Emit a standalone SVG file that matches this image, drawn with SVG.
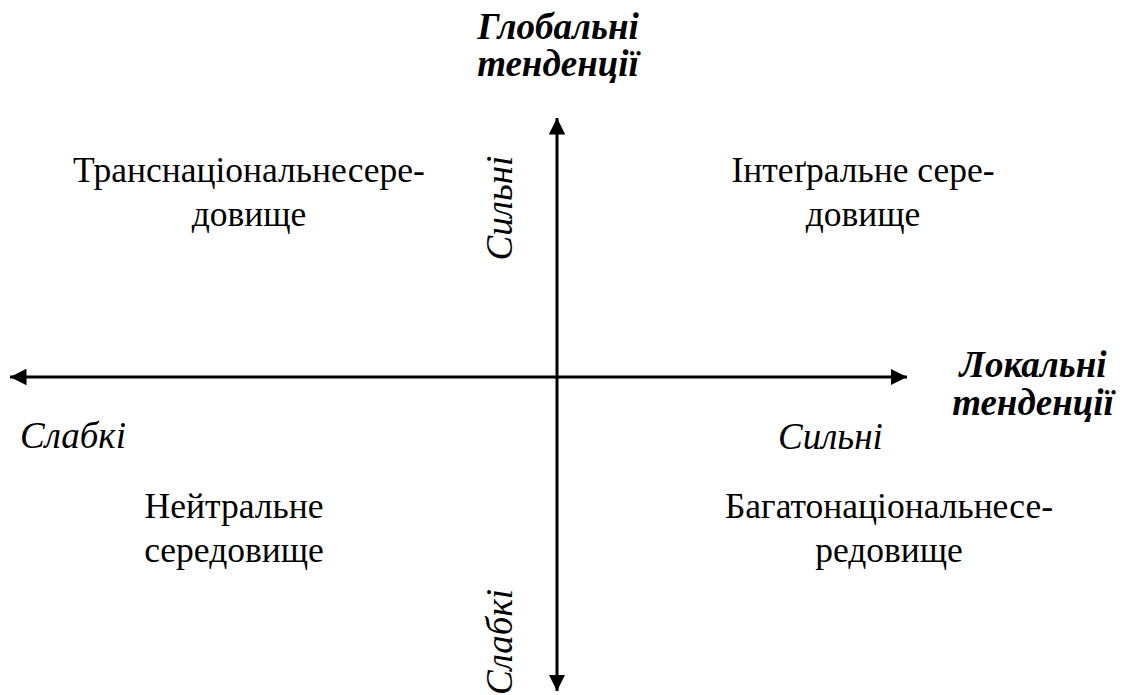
<svg xmlns="http://www.w3.org/2000/svg" width="1124" height="695" viewBox="0 0 1124 695">
<style>
text{font-family:'Liberation Serif','Times New Roman',serif;font-size:35.5px;fill:#000}
.c{text-anchor:middle}
.i{font-style:italic;font-size:37px}
.b{font-weight:bold;font-style:italic;font-size:37px}
.ax{stroke:#000;stroke-width:3;fill:none}
</style>
<defs>
<marker id="ah" viewBox="0 0 10 10" refX="10" refY="5" markerWidth="5.5" markerHeight="5.5" orient="auto" markerUnits="strokeWidth">
<path d="M0,0 L10,5 L0,10 z" fill="#000"/>
</marker>
</defs>
<rect width="1124" height="695" fill="#fff"/>
<g id="connectors">
<line class="ax" x1="557" y1="377" x2="557" y2="118" marker-end="url(#ah)"/>
<line class="ax" x1="557" y1="377" x2="557" y2="691" marker-end="url(#ah)"/>
<line class="ax" x1="557" y1="377" x2="907" y2="377" marker-end="url(#ah)"/>
<line class="ax" x1="557" y1="377" x2="10" y2="377" marker-end="url(#ah)"/>
</g>
<g id="global-trends"><text class="c b" x="558" y="39">Глобальні</text><text class="c b" x="558" y="76">тенденції</text></g>
<g id="local-trends"><text class="c b" x="1033" y="377">Локальні</text><text class="c b" x="1033" y="415">тенденції</text></g>
<g id="strong-v"><text class="c i" transform="translate(512,208) rotate(-90)">Сильні</text></g>
<g id="weak-v"><text class="c i" transform="translate(512,642) rotate(-90)">Слабкі</text></g>
<g id="weak-h"><text class="i" x="20" y="448">Слабкі</text></g>
<g id="strong-h"><text class="i" x="778" y="449">Сильні</text></g>
<g id="transnational"><text class="c" x="249" y="182">Транснаціональнесере-</text><text class="c" x="249" y="226">довище</text></g>
<g id="integral"><text class="c" x="863" y="182">Інтеґральне сере-</text><text class="c" x="863" y="226">довище</text></g>
<g id="neutral"><text class="c" x="234" y="518">Нейтральне</text><text class="c" x="234" y="562">середовище</text></g>
<g id="multinational"><text class="c" x="889" y="518">Багатонаціональнесе-</text><text class="c" x="889" y="562">редовище</text></g>
</svg>
